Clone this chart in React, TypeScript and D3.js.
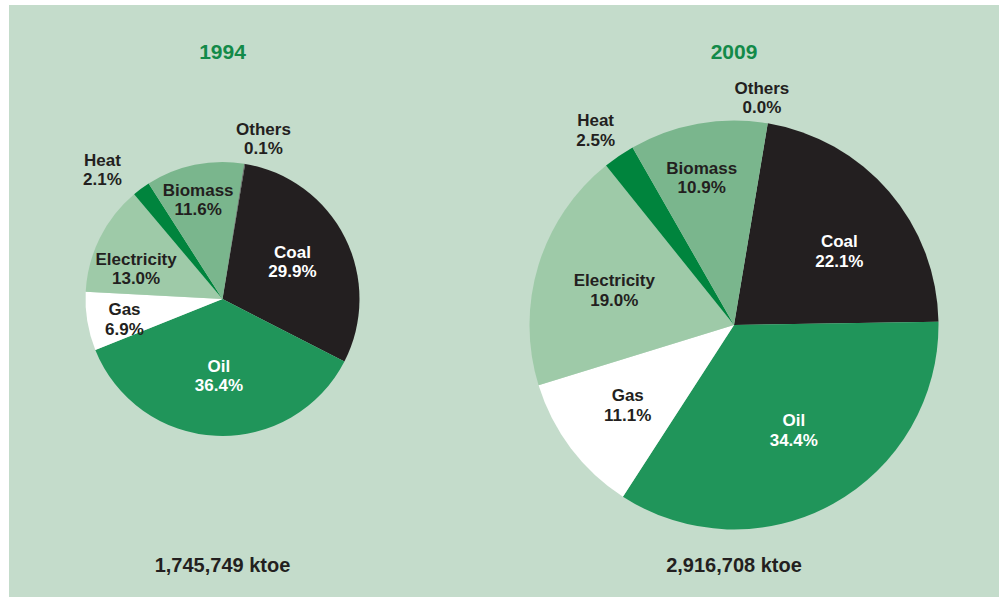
import React from 'react';
import * as d3 from 'd3';

// data
const categories = ['Coal', 'Oil', 'Gas', 'Electricity', 'Heat', 'Biomass', 'Others'];
const years = ['1994', '2009'];
const shares1994 = [29.9, 36.4, 6.9, 13.0, 2.1, 11.6, 0.1];
const shares2009 = [22.1, 34.4, 11.1, 19.0, 2.5, 10.9, 0.0];
const totals = ['1,745,749 ktoe', '2,916,708 ktoe'];

// styles
const width = 999;
const height = 597;
const bg = '#c4dccb';
const titleColor = '#138a49';
const dark = '#231f20';
const font = "'Liberation Sans', Arial, sans-serif";
const colour = d3.scaleOrdinal<string, string>()
  .domain(categories)
  .range(['#231f20', '#20955a', '#ffffff', '#9ecaa8', '#00843d', '#7ab68d', '#5a5a5a']);
const whiteText = ['Coal', 'Oil'];
const startAngle = (9.5 * Math.PI) / 180;

// layout of the two pies
const pies = [
  {
    cx: 222.5, cy: 299, r: 137,
    // label radius (fraction of r) and angle nudge (degrees)
    labelR: { Coal: 0.58, Oil: 0.56, Gas: 0.73, Electricity: 0.67, Heat: 1.29, Biomass: 0.75, Others: 1.21 },
    labelA: { Coal: -1.6, Oil: 0, Gas: -2, Electricity: -6.7, Heat: -6.4, Biomass: -2, Others: 5 },
  },
  {
    cx: 734, cy: 325, r: 204.5,
    labelR: { Coal: 0.63, Oil: 0.59, Gas: 0.65, Electricity: 0.61, Heat: 1.17, Biomass: 0.74, Others: 1.12 },
    labelA: { Coal: 5.6, Oil: -0.7, Gas: 0.2, Electricity: -0.7, Heat: -1.1, Biomass: -2.2, Others: -2.5 },
  },
];

const pieGen = d3.pie<number>()
  .sort(null)
  .value(d => d)
  .startAngle(startAngle)
  .endAngle(startAngle + 2 * Math.PI);

const Pie = ({ values, idx }: { values: number[]; idx: number }) => {
  const p = pies[idx];
  const arcs = pieGen(values);
  const arc = d3.arc<d3.PieArcDatum<number>>().innerRadius(0).outerRadius(p.r);
  return (
    <g transform={`translate(${p.cx},${p.cy})`}>
      {arcs.map((a, i) => (
        a.value > 0 ? <path key={i} d={arc(a) || ''} fill={colour(categories[i])} /> : null
      ))}
      {arcs.map((a, i) => {
        const c = categories[i];
        const ang = (a.startAngle + a.endAngle) / 2 + ((p.labelA as any)[c] * Math.PI) / 180;
        const rr = (p.labelR as any)[c] * p.r;
        const x = rr * Math.sin(ang);
        const y = -rr * Math.cos(ang);
        const fill = whiteText.includes(c) ? '#ffffff' : dark;
        return (
          <g key={'t' + i} fontFamily={font} fontWeight="bold" fontSize={17} fill={fill} textAnchor="middle">
            <text x={x} y={y - 3.5}>{c}</text>
            <text x={x} y={y + 15.8}>{a.value.toFixed(1)}%</text>
          </g>
        );
      })}
    </g>
  );
};

const App = () => {
  const series = [shares1994, shares2009];
  return (
    <div style={{ position: 'absolute', left: 0, top: 0 }}>
      <svg width={width} height={height} style={{ display: 'block' }}>
        <rect x={0} y={0} width={width} height={height} fill="#ffffff" />
        <rect x={9} y={5} width={width - 9} height={height - 5} fill={bg} />
        {series.map((s, i) => (
          <g key={i}>
            <text x={pies[i].cx} y={59} textAnchor="middle" fontFamily={font} fontWeight="bold"
              fontSize={21} fill={titleColor}>{years[i]}</text>
            <Pie values={s} idx={i} />
            <text x={pies[i].cx} y={572} textAnchor="middle" fontFamily={font} fontWeight="bold"
              fontSize={20} fill={dark}>{totals[i]}</text>
          </g>
        ))}
      </svg>
    </div>
  );
};

export default App;
